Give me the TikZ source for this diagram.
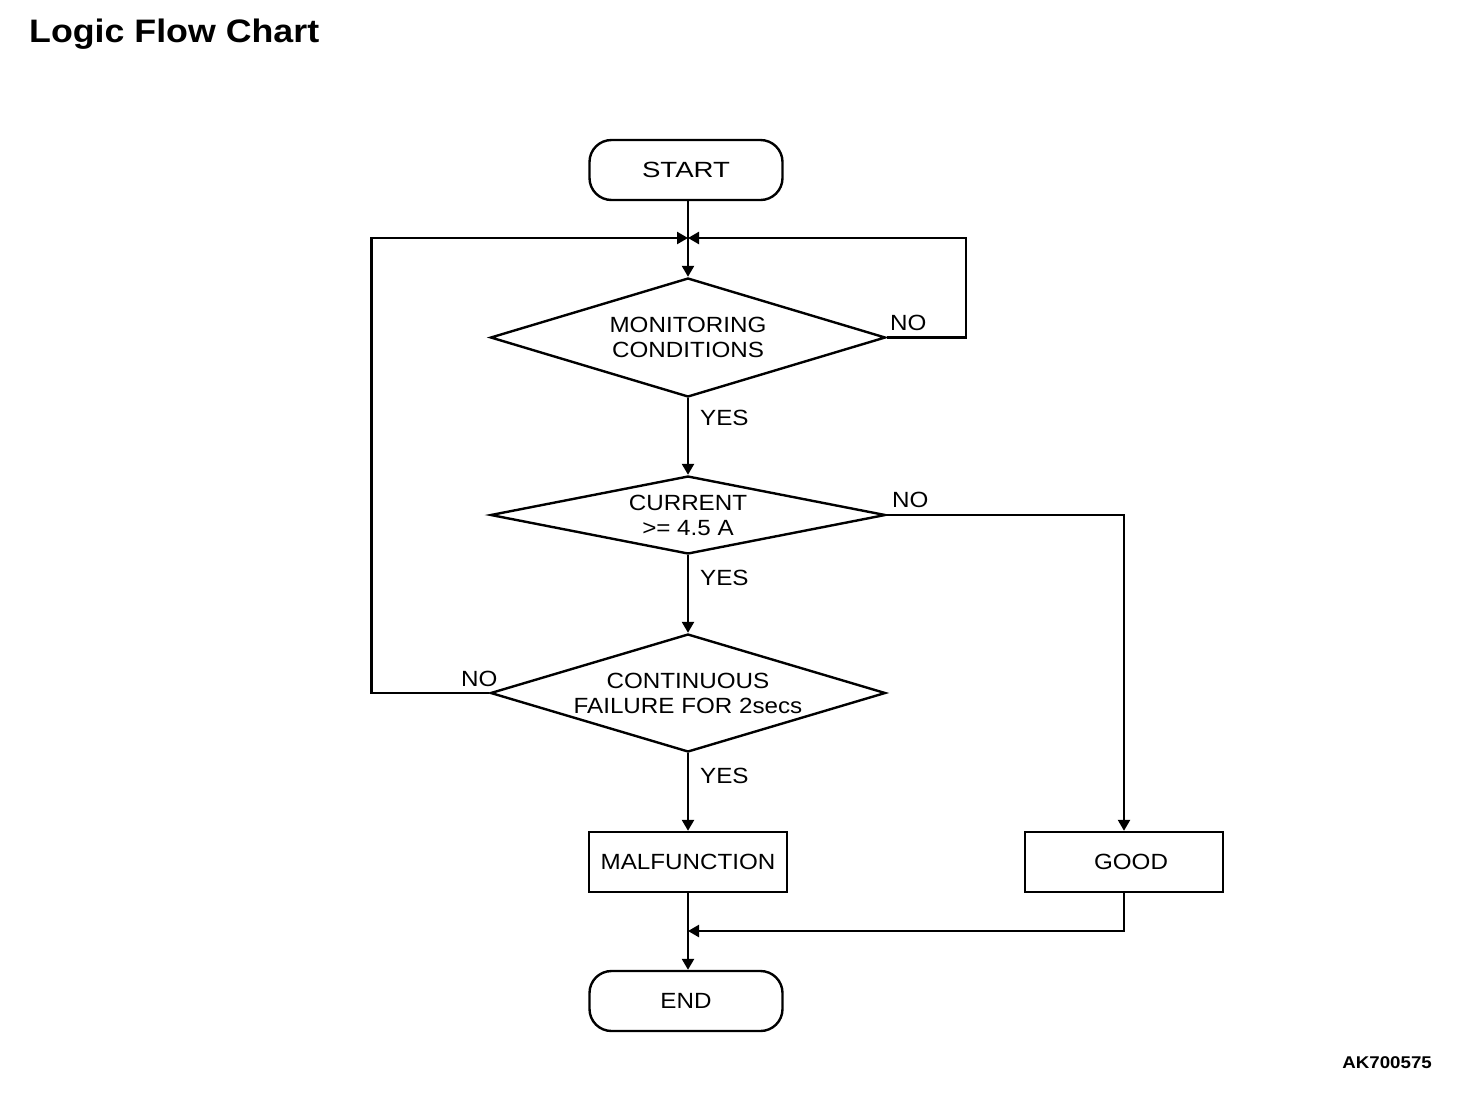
\documentclass[tikz,border=0pt]{standalone}
\usepackage{fontspec}
\newfontfamily\lfont{Liberation Sans}[FakeStretch=1.1]
\usetikzlibrary{shapes.geometric,arrows.meta}
\begin{document}
\begin{tikzpicture}[x=1pt,y=-1pt,
  line width=2.4pt,
  every node/.style={font=\lfont\fontsize{22}{25}\selectfont, line width=2.4pt},
  term/.style={draw, rounded corners=22pt, minimum width=193pt, minimum height=60pt, inner sep=0pt, text depth=0pt},
  proc/.style={draw, rectangle, minimum width=198pt, minimum height=60pt, inner sep=0pt, text depth=0pt},
  dec/.style={draw, diamond, minimum width=395pt, inner sep=0pt, align=center},
  lbl/.style={anchor=base west, inner sep=0pt},
  arr/.style={-{Triangle[length=11pt,width=12pt]}}
]
\useasboundingbox (0,0) rectangle (1472,1112);
\node[anchor=base west, inner sep=0pt, font=\lfont\bfseries\fontsize{32.5}{34}\selectfont] (title) at (28,42) {Logic Flow Chart};
\node[anchor=base east, inner sep=0pt, font=\lfont\bfseries\fontsize{17}{18}\selectfont] (code) at (1433,1068) {AK700575};

\node[term] (start) at (686,170) {\scalebox{1.14}[1]{START}};
\node[dec, aspect=3.3, minimum height=119pt] (d1) at (688,337.5) {MONITORING\\CONDITIONS};
\node[dec, aspect=5, minimum height=78pt] (d2) at (688,515) {CURRENT\\\textgreater= 4.5 A};
\node[dec, aspect=3.3, minimum height=118pt] (d3) at (688,693) {CONTINUOUS\\FAILURE FOR 2secs};
\node[proc] (mal) at (688,862) {MALFUNCTION};
\node[proc] (good) at (1124,862) {\hspace*{14pt}GOOD};
\node[term] (endn) at (686,1001) {END};

\coordinate (j) at (688,238);
\coordinate (m) at (688,931);

\draw[arr] (start.south -| d1.north) -- (d1.north);
\draw[arr] (d1.east) -- ++(79,0) |- (j);
\draw[arr] (d3.west) -- ++(-118,0) |- (j);
\draw[arr] (d1.south) -- (d2.north);
\draw[arr] (d2.south) -- (d3.north);
\draw[arr] (d3.south) -- (mal.north);
\draw[arr] (d2.east) -| (good.north);
\draw[arr] (mal.south) -- (endn.north -| mal.south);
\draw[arr] (good.south) |- (m);

\node[lbl] (no1) at (889,330) {NO};
\node[lbl] (yes1) at (699,425) {YES};
\node[lbl] (no2) at (891,507) {NO};
\node[lbl] (yes2) at (699,585) {YES};
\node[lbl] (no3) at (460,686) {NO};
\node[lbl] (yes3) at (699,783) {YES};
\end{tikzpicture}
\end{document}
